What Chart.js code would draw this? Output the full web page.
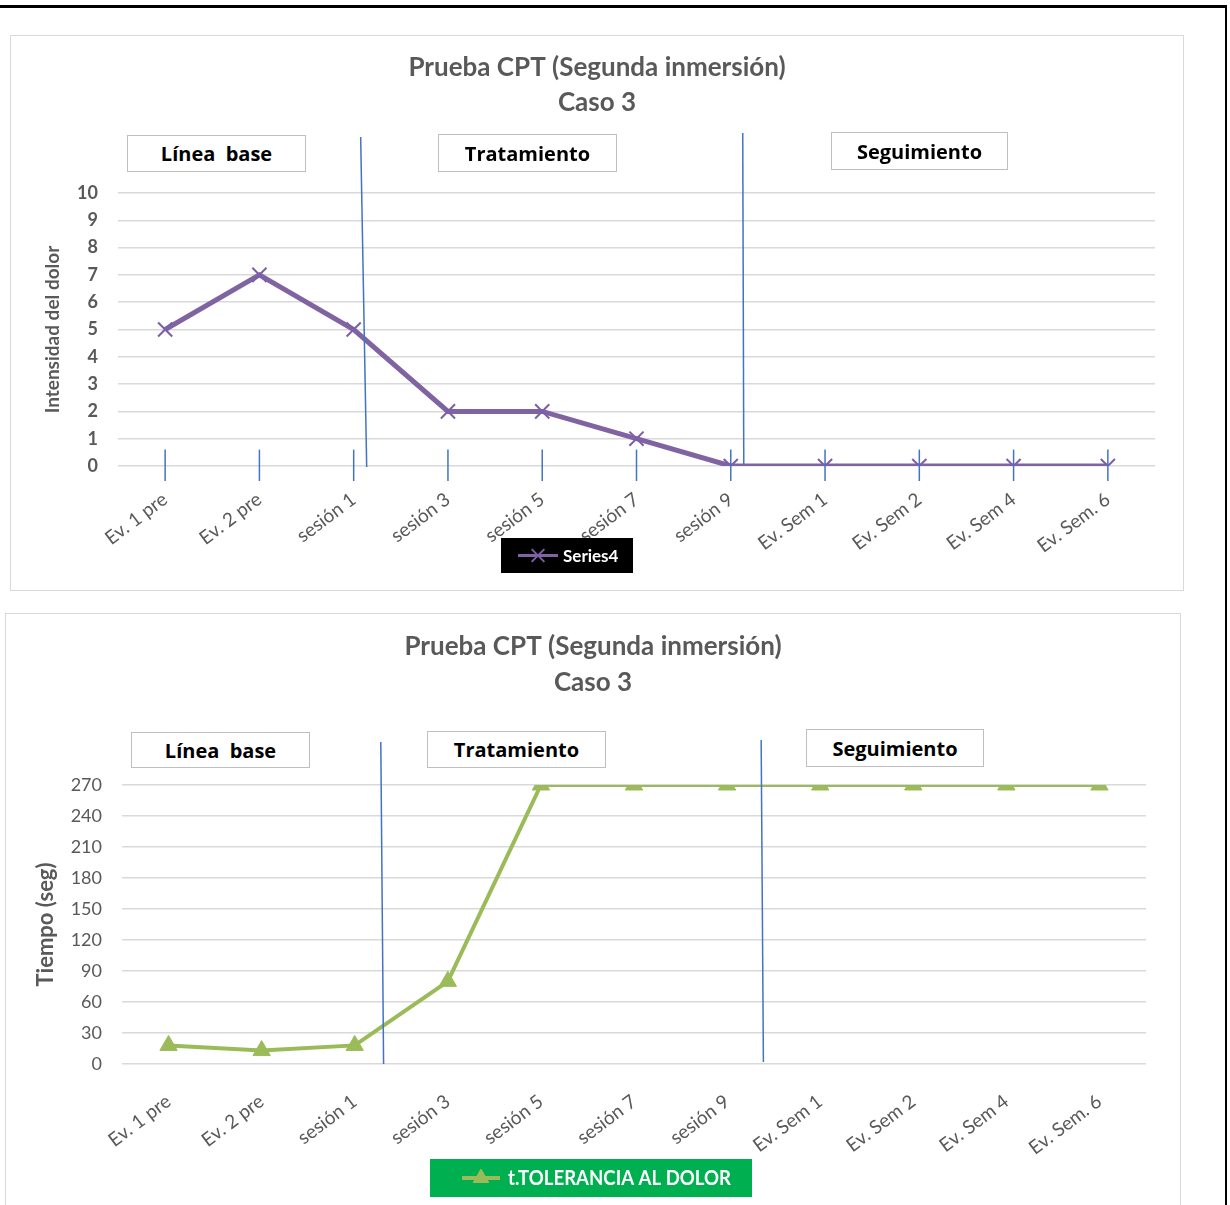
<!DOCTYPE html>
<html><head><meta charset="utf-8">
<script src="https://cdn.jsdelivr.net/npm/chart.js@4"></script>
<style>
body{margin:0;background:#fff;width:1230px;height:1205px;position:relative;overflow:hidden;font-family:Lato,sans-serif}
.frame{position:absolute;left:0;top:5px;width:1227px;height:1220px;border-top:3px solid #000;border-right:2px solid #000;box-sizing:border-box}
.panel{position:absolute;border:1px solid #d9d9d9;background:#fff;box-sizing:border-box}
canvas{position:absolute}
.box{position:absolute;border:1.5px solid #bfbfbf;background:#fff;font:bold 20px "Open Sans",sans-serif;color:#000;display:flex;align-items:center;justify-content:center;box-sizing:border-box;white-space:pre}
</style>
</head><body>
<div class="frame"></div>
<div class="panel" style="left:10px;top:35px;width:1174px;height:556px"></div>
<div class="panel" style="left:5px;top:613px;width:1176px;height:600px"></div>
<canvas id="c1" width="1174" height="556" style="left:10px;top:35px"></canvas>
<canvas id="c2" width="1176" height="592" style="left:5px;top:613px"></canvas>
<div class="box" style="left:127px;top:135px;width:179px;height:37px">Línea  base</div>
<div class="box" style="left:438px;top:134px;width:179px;height:38px">Tratamiento</div>
<div class="box" style="left:831px;top:132px;width:177px;height:38px">Seguimiento</div>
<div class="box" style="left:131px;top:732px;width:179px;height:36px">Línea  base</div>
<div class="box" style="left:427px;top:731px;width:179px;height:37px">Tratamiento</div>
<div class="box" style="left:806px;top:729px;width:178px;height:38px">Seguimiento</div>
<script>
// ---- data ----
const categories = ['Ev. 1 pre','Ev. 2 pre','sesión 1','sesión 3','sesión 5','sesión 7','sesión 9','Ev. Sem 1','Ev. Sem 2','Ev. Sem 4','Ev. Sem. 6'];
const intensidadDolor = [5,7,5,2,2,1,0,0,0,0,0];
const toleranciaDolor = [18,13,18,80,270,270,270,270,270,270,270];
const chartTitle = ['Prueba CPT (Segunda inmersión)','Caso 3'];
const seriesName1 = 'Series4';
const seriesName2 = 't.TOLERANCIA AL DOLOR';
const yTitle1 = 'Intensidad del dolor';
const yTitle2 = 'Tiempo (seg)';

const GRAY = '#595959';
const BLUE = '#4472C4';

const decorPlugin = {
  id: 'decor',
  afterDatasetsDraw(chart, args, opts) {
    const ctx = chart.ctx, xs = chart.scales.x, ys = chart.scales.y;
    ctx.save();
    ctx.strokeStyle = BLUE; ctx.lineWidth = 1.5;
    (opts.drops ? categories : []).forEach((c, i) => {
      ctx.beginPath();
      ctx.moveTo(xs.getPixelForValue(i), ys.getPixelForValue(opts.drops[0]));
      ctx.lineTo(xs.getPixelForValue(i), ys.getPixelForValue(opts.drops[1]));
      ctx.stroke();
    });
    (opts.phases || []).forEach(p => {
      ctx.beginPath();
      ctx.moveTo(xs.getPixelForValue(p[0]), ys.getPixelForValue(p[1]));
      ctx.lineTo(xs.getPixelForValue(p[2]), ys.getPixelForValue(p[3]));
      ctx.stroke();
    });
    const L = opts.legend;
    if (L) {
      const ds = chart.data.datasets[0];
      ctx.fillStyle = L.bg;
      ctx.fillRect(L.x, L.y, L.w, L.h);
      const cy = L.y + L.h / 2;
      ctx.strokeStyle = ds.borderColor; ctx.lineWidth = L.lw;
      ctx.beginPath(); ctx.moveTo(L.lx0, cy); ctx.lineTo(L.lx1, cy); ctx.stroke();
      ctx.fillStyle = ds.pointBackgroundColor; ctx.strokeStyle = ds.pointBorderColor;
      ctx.lineWidth = ds.pointBorderWidth;
      Chart.helpers.drawPoint(ctx, {pointStyle: ds.pointStyle, radius: L.pr, borderWidth: ds.pointBorderWidth, rotation: 0}, (L.lx0 + L.lx1) / 2, cy);
      ctx.fillStyle = '#fff'; ctx.font = L.font; ctx.textBaseline = 'middle'; ctx.textAlign = 'left';
      ctx.fillText(ds.label, L.tx, cy + 1, L.tw);
    }
    ctx.restore();
  }
};

function xAxis(h, pad) {
  return {
    type: 'category', offset: true,
    grid: {display: false}, border: {display: false},
    ticks: {color: GRAY, font: {family: 'Lato', size: 19}, minRotation: 37, maxRotation: 37, autoSkip: false, padding: pad},
    afterFit: s => { s.height = h; }
  };
}
function spacer(w) {
  return {position: 'right', display: true, grid: {display: false}, border: {display: false}, ticks: {display: false}, afterFit: s => { s.width = w; }};
}

new Chart(document.getElementById('c1'), {
  type: 'line',
  data: {labels: categories, datasets: [{
    label: seriesName1, data: intensidadDolor,
    borderColor: '#8064A2', borderWidth: 5,
    pointStyle: 'crossRot', pointRadius: 10, pointBorderWidth: 2,
    pointBorderColor: '#7B5FA8', pointBackgroundColor: '#7B5FA8', tension: 0
  }]},
  options: {
    responsive: false, animation: false,
    layout: {padding: {left: 0, right: 0, top: 0, bottom: 5}},
    plugins: {
      legend: {display: false}, tooltip: {enabled: false},
      title: {display: true, text: chartTitle, color: GRAY, font: {family: 'Lato', size: 26, weight: 'bold', lineHeight: '35px'}, padding: {top: 15.5, bottom: 72.5}},
      decor: {
        drops: [0.6, -0.55],
        phases: [[2.074, 12.05, 2.138, -0.04], [6.127, 12.2, 6.138, 0.04]],
        legend: {x: 491, y: 503, w: 132, h: 35, bg: '#000', lx0: 508, lx1: 548, lw: 3, pr: 9, tx: 553, tw: 62, font: 'bold 17px Lato'}
      }
    },
    scales: {
      x: xAxis(120, 14),
      y: {
        min: 0, max: 10,
        ticks: {stepSize: 1, color: GRAY, font: {family: 'Lato', size: 18, weight: 'bold'}, padding: 20},
        grid: {color: '#d9d9d9', lineWidth: 1.5, drawTicks: false}, border: {display: false},
        title: {display: true, text: yTitle1, color: GRAY, font: {family: 'Lato', size: 19, weight: 'bold'}, padding: {top: 31.6, bottom: 0}},
        afterFit: s => { s.width = 108; }
      },
      y2: spacer(29)
    }
  },
  plugins: [decorPlugin]
});

new Chart(document.getElementById('c2'), {
  type: 'line',
  data: {labels: categories, datasets: [{
    label: seriesName2, data: toleranciaDolor,
    borderColor: '#9BBB59', borderWidth: 4,
    pointStyle: 'triangle', pointRadius: 10, pointBorderWidth: 1,
    pointBorderColor: '#9BBB59', pointBackgroundColor: '#9BBB59', tension: 0
  }]},
  options: {
    responsive: false, animation: false,
    layout: {padding: {left: 0, right: 0, top: 0, bottom: 21}},
    plugins: {
      legend: {display: false}, tooltip: {enabled: false},
      title: {display: true, text: chartTitle, color: GRAY, font: {family: 'Lato', size: 26, weight: 'bold', lineHeight: '36px'}, padding: {top: 16, bottom: 84}},
      decor: {
        phases: [[2.28, 311.6, 2.31, 0], [6.366, 313.5, 6.39, 2]],
        legend: {x: 425, y: 546, w: 322, h: 38, bg: '#00B050', lx0: 457, lx1: 495, lw: 4, pr: 9, tx: 503, tw: 223, font: 'bold 20px Lato'}
      }
    },
    scales: {
      x: xAxis(120, 18),
      y: {
        min: 0, max: 270,
        ticks: {stepSize: 30, color: GRAY, font: {family: 'Lato', size: 18}, padding: 20},
        grid: {color: '#d9d9d9', lineWidth: 1.5, drawTicks: false}, border: {display: false},
        title: {display: true, text: yTitle2, color: GRAY, font: {family: 'Lato', size: 22, weight: 'bold'}, padding: {top: 27.8, bottom: 0}},
        afterFit: s => { s.width = 117; }
      },
      y2: spacer(35)
    }
  },
  plugins: [decorPlugin]
});
</script>
</body></html>
